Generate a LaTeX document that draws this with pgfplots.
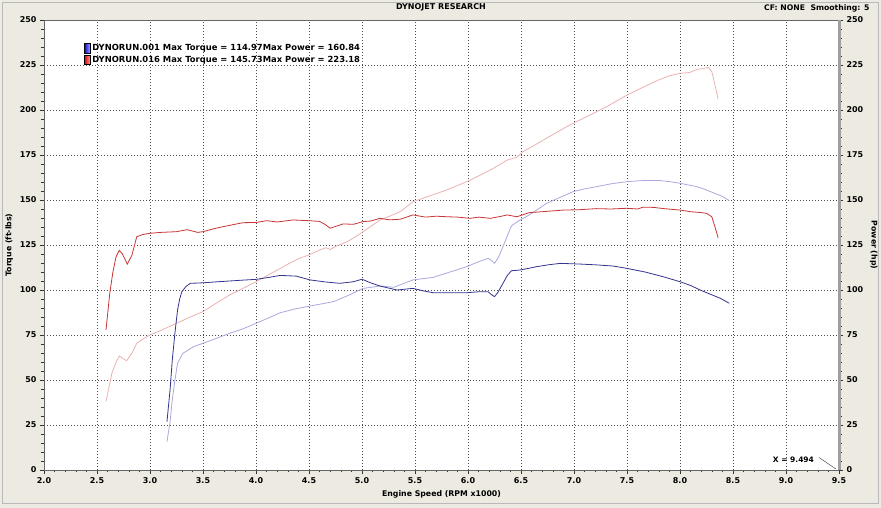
\documentclass[border=0pt]{standalone}
\usepackage{fontspec}
\setmainfont{DejaVu Sans}
\usepackage{pgfplots}
\pgfplotsset{compat=1.18}
\definecolor{panel}{HTML}{EDEBE1}
\definecolor{trqred}{HTML}{C93535}
\definecolor{pwrred}{HTML}{EBB2B2}
\definecolor{trqblue}{HTML}{34348F}
\definecolor{pwrblue}{HTML}{A9A9DE}
\begin{document}
\begin{tikzpicture}[x=1pt,y=1pt]
\fill[panel] (0,0) rectangle (881,508);
\draw[gray!55] (2.5,4.5) rectangle (878.5,505.5);
\node[font=\bfseries\fontsize{8}{9}\selectfont] at (441,500.5) {DYNOJET RESEARCH};
\node[anchor=east,font=\bfseries\fontsize{7.7}{9}\selectfont] at (873,499.5) {CF: NONE\ \ Smoothing: 5};

\pgfplotsset{dyno/.style={
  at={(44pt,38pt)}, anchor=south west,
  width=795pt, height=450pt, scale only axis,
  xmin=2, xmax=9.5, ymin=0, ymax=250,
  xtick={2,2.5,3,3.5,4,4.5,5,5.5,6,6.5,7,7.5,8,8.5,9,9.5},
  ytick={0,25,50,75,100,125,150,175,200,225,250},
  minor x tick num=4, minor y tick num=4,
  tick align=outside,
  major tick length=4pt, minor tick length=2.5pt,
  tick style={black!80, line width=0.5pt},
  /pgf/number format/assume math mode=true,
  ticklabel style={font=\bfseries\fontsize{8}{9}\selectfont},
  label style={font=\bfseries\fontsize{7.8}{9}\selectfont},
}}

\begin{axis}[dyno,
  axis background/.style={fill=white},
  axis line style={black!60, line width=0.8pt},
  xtick pos=bottom, ytick pos=left,
  grid=major,
  major grid style={dash pattern=on 1pt off 2pt, black!70, line width=0.6pt},
  xticklabel style={/pgf/number format/.cd, fixed, fixed zerofill, precision=1},
  xlabel={Engine Speed (RPM x1000)},
  ylabel={Torque (ft-lbs)},
  legend style={at={(0.05,0.951)}, anchor=north west, draw=none, fill=none,
    inner sep=0pt, row sep=0pt, font=\bfseries\fontsize{8.4}{9.5}\selectfont},
  legend cell align=left,
  clip=false,
]
\addlegendimage{legend image code/.code={\shade[left color=blue!85!black, right color=blue!35] (0pt,-4.75pt) rectangle (6pt,4.75pt);}}
\addlegendentry{DYNORUN.001 Max Torque = 114.97Max Power = 160.84}
\addlegendimage{legend image code/.code={\shade[left color=red!85!black, right color=red!40] (0pt,-4.75pt) rectangle (6pt,4.75pt);}}
\addlegendentry{DYNORUN.016 Max Torque = 145.73Max Power = 223.18}

% DYNORUN.016 power
\addplot[pwrred, line width=0.8pt, forget plot] coordinates {
(2.585,38)(2.64,53.7)(2.68,60)(2.71,63.3)(2.78,60.7)(2.83,65)(2.875,70.4)(2.94,73)
(3.0,75)(3.1,77.5)(3.25,81.5)(3.38,85)(3.5,88)(3.62,92.5)(3.75,97.2)(3.88,101)
(4.0,104.6)(4.12,108.5)(4.23,112)(4.32,115)(4.41,117.6)(4.5,119.5)(4.6,122.2)(4.66,123.5)
(4.70,122.5)(4.76,124.5)(4.86,126.8)(4.95,130)(5.05,134)(5.17,138.9)(5.26,141)(5.36,143.5)
(5.48,149)(5.6,151.5)(5.7,153.5)(5.80,155.6)(5.9,158)(6.02,161)(6.12,164)(6.24,167.6)
(6.37,172.2)(6.46,173.7)(6.52,176.9)(6.63,180.5)(6.74,184.3)(6.85,188)(6.96,191.7)(7.12,196.3)
(7.31,201.9)(7.50,208.3)(7.65,212.6)(7.81,217)(7.9,219)(8.0,220.4)(8.09,220.8)(8.16,222.6)
(8.22,223)(8.27,223.7)(8.30,221.3)(8.33,214)(8.36,206)
};
% DYNORUN.001 power
\addplot[pwrblue, line width=0.8pt, forget plot] coordinates {
(3.16,15.7)(3.19,27)(3.21,38.9)(3.235,50)(3.26,59.3)(3.31,64.8)(3.41,68.5)(3.5,70.4)
(3.62,73)(3.75,75.9)(3.88,78.5)(4.0,81.5)(4.12,84.5)(4.23,87.4)(4.37,89.5)(4.51,91.1)
(4.62,92.3)(4.73,93.5)(4.87,97)(5.01,100.9)(5.17,102.2)(5.30,101.5)(5.48,105.6)(5.67,107)
(5.83,110)(5.99,113)(6.09,115.5)(6.19,117.6)(6.22,116.5)(6.25,114.8)(6.29,118.5)(6.33,124.1)
(6.37,130)(6.41,135.6)(6.48,138.5)(6.55,140.7)(6.65,144.5)(6.74,148.1)(6.87,151.5)(6.99,154.6)
(7.1,156.2)(7.21,157.4)(7.35,159)(7.50,160.2)(7.65,160.8)(7.81,160.8)(7.9,160.2)(8.0,159.3)
(8.16,157.4)(8.24,155.8)(8.31,154.1)(8.4,152)(8.465,149.6)
};
% DYNORUN.016 torque
\addplot[trqred, line width=0.8pt, forget plot] coordinates {
(2.585,77.8)(2.62,98)(2.65,110)(2.68,118.5)(2.71,122)(2.74,120)(2.786,114.4)(2.83,119.4)
(2.875,129.6)(2.93,130.8)(3.0,131.5)(3.1,132)(3.25,132.4)(3.35,133.5)(3.45,132)(3.5,132.4)
(3.6,134)(3.69,135.2)(3.8,136.5)(3.88,137.4)(4.0,137.5)(4.1,138.5)(4.2,137.8)(4.35,138.9)
(4.5,138.5)(4.6,138.1)(4.65,136.5)(4.70,134.3)(4.76,135.5)(4.82,136.7)(4.92,136.5)(5.01,138)
(5.08,138.3)(5.17,139.8)(5.26,139)(5.36,139.3)(5.48,141.7)(5.6,140.5)(5.7,141)(5.80,140.7)
(5.9,140.5)(6.02,139.8)(6.1,140.5)(6.21,139.8)(6.3,140.8)(6.37,141.7)(6.46,140.7)(6.58,143)
(6.7,143.5)(6.90,144.4)(7.05,144.6)(7.21,145.2)(7.35,145)(7.50,145.4)(7.6,145)(7.65,146)
(7.75,145.9)(7.85,145.2)(8.0,144.4)(8.1,143.5)(8.2,143)(8.25,142.6)(8.30,140.7)(8.33,135)
(8.36,129)
};
% DYNORUN.001 torque
\addplot[trqblue, line width=0.8pt, forget plot] coordinates {
(3.16,26.8)(3.19,45)(3.21,61)(3.235,76)(3.26,88.9)(3.28,95)(3.30,99)(3.34,102)
(3.38,103.7)(3.5,104)(3.62,104.5)(3.75,105)(3.88,105.5)(4.0,105.9)(4.12,107)(4.23,108.1)
(4.38,107.7)(4.51,105.6)(4.65,104.5)(4.79,103.7)(4.92,104.6)(5.0,106)(5.08,104)(5.17,102.2)
(5.33,100)(5.48,100.9)(5.58,99.5)(5.67,98.5)(5.8,98.5)(5.99,98.5)(6.1,99)(6.19,99)
(6.22,97.5)(6.25,96.3)(6.28,98.5)(6.33,103.7)(6.37,108)(6.41,110.7)(6.49,111.1)(6.57,112)
(6.65,113)(6.76,114)(6.87,114.8)(7.06,114.4)(7.2,114)(7.37,113.3)(7.50,112)(7.67,110)
(7.84,107.4)(8.0,104.6)(8.1,102.5)(8.19,100)(8.28,97.8)(8.38,95.4)(8.465,92.6)
};

\node[font=\bfseries\fontsize{7.5}{8}\selectfont] at (axis cs:9.07,5.8) {X = 9.494};
\draw[black!80, line width=0.4pt] (axis cs:9.31,7) -- (axis cs:9.47,0.6);
\end{axis}

\begin{axis}[dyno,
  axis x line=none,
  axis y line*=right,
  y axis line style={gray!75, line width=3pt},
  ylabel={Power (hp)},
  ylabel style={rotate=180},
]
\addplot[draw=none, forget plot] coordinates {(2,0)(9.5,250)};
\end{axis}
\end{tikzpicture}
\end{document}
